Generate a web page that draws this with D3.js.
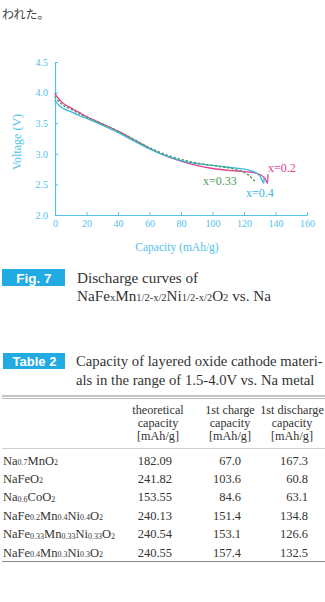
<!DOCTYPE html>
<html>
<head>
<meta charset="utf-8">
<script src="https://cdn.jsdelivr.net/npm/d3@7"></script>
<style>
  body { margin: 0; background: #fff; }
  svg { display: block; }
</style>
</head>
<body>
<div id="page"></div>
<script>
(function () {
    var width = 325, height = 602;

    // --- chart data (capacity mAh/g, voltage V) ---
    var xTicks = [0, 20, 40, 60, 80, 100, 120, 140, 160];
    var yTicks = [2.0, 2.5, 3.0, 3.5, 4.0, 4.5];

    var curveX02 = [[0, 3.98], [3, 3.88], [6, 3.81], [10, 3.75], [15, 3.68], [20, 3.61], [30, 3.49], [40, 3.37],
        [50, 3.23], [60, 3.09], [70, 2.97], [80, 2.88], [90, 2.81], [100, 2.76], [110, 2.73], [120, 2.71],
        [127, 2.69], [131, 2.65], [133.5, 2.59], [134.8, 2.52], [135.2, 2.66]];
    var curveX033 = [[0, 3.93], [3, 3.84], [6, 3.78], [10, 3.73], [15, 3.66], [20, 3.60], [30, 3.49], [40, 3.37],
        [50, 3.24], [60, 3.10], [70, 2.99], [80, 2.91], [90, 2.85], [100, 2.81], [110, 2.77], [118, 2.72],
        [123, 2.65], [126.6, 2.56]];
    var curveX04 = [[0, 3.87], [3, 3.78], [6, 3.73], [10, 3.69], [15, 3.63], [20, 3.58], [30, 3.47], [40, 3.35],
        [50, 3.21], [60, 3.08], [70, 2.97], [80, 2.89], [90, 2.84], [100, 2.81], [110, 2.78], [120, 2.75],
        [126, 2.71], [130, 2.64], [132.5, 2.52], [132.7, 2.6]];

    var seriesNames = ["x=0.2", "x=0.33", "x=0.4"];

    // --- table data ---
    var tableHeaders = [["theoretical", "capacity", "[mAh/g]"],
        ["1st charge", "capacity", "[mAh/g]"],
        ["1st discharge", "capacity", "[mAh/g]"]];
    var materials = ["Na_{0.7}MnO_{2}", "NaFeO_{2}", "Na_{0.6}CoO_{2}", "NaFe_{0.2}Mn_{0.4}Ni_{0.4}O_{2}",
        "NaFe_{0.33}Mn_{0.33}Ni_{0.33}O_{2}", "NaFe_{0.4}Mn_{0.3}Ni_{0.3}O_{2}"];
    var theoretical = [182.09, 241.82, 153.55, 240.13, 240.54, 240.55];
    var firstCharge = [67.0, 103.6, 84.6, 151.4, 153.1, 157.4];
    var firstDischarge = [167.3, 60.8, 63.1, 134.8, 126.6, 132.5];

    var serif = "'Liberation Serif', 'DejaVu Serif', serif";
    var sans = "'Liberation Sans', Arial, sans-serif";
    var axisColor = "#52c2ea";
    var boxColor = "#22aae2";
    var textColor = "#333";

    var svg = d3.select("#page")
        .append("svg")
        .attr("width", width)
        .attr("height", height);

    // split "Na_{0.7}MnO_{2}" into normal / subscript tspans
    function rich(text, str, subSize, shift) {
        var parts = str.split(/(_\{[^}]*\})/).filter(function (p) { return p.length; });
        var down = false;
        parts.forEach(function (p) {
            var isSub = p.indexOf("_{") == 0;
            var t = text.append("tspan").text(isSub ? p.slice(2, -1) : p);
            if (isSub) {
                t.attr("font-size", subSize);
                if (!down) { t.attr("dy", shift); down = true; }
            } else if (down) {
                t.attr("dy", -shift);
                down = false;
            }
        });
    }

    // leftover paragraph text
    svg.append("text")
        .attr("x", 2).attr("y", 19)
        .attr("font-family", "'Noto Sans CJK JP', sans-serif")
        .attr("font-size", 12)
        .attr("fill", "#444")
        .text("われた。");

    // --- chart ---
    var x = d3.scaleLinear().domain([0, 160]).range([55, 307]);
    var y = d3.scaleLinear().domain([2, 4.5]).range([215, 62]);

    var gx = svg.append("g")
        .attr("transform", "translate(0,215)")
        .call(d3.axisBottom(x).tickValues(xTicks).tickSizeInner(-3).tickSizeOuter(0).tickPadding(5));
    var gy = svg.append("g")
        .attr("transform", "translate(55,0)")
        .call(d3.axisLeft(y).tickValues(yTicks).tickSizeInner(-3).tickSizeOuter(0).tickPadding(7)
            .tickFormat(d3.format(".1f")));

    [gx, gy].forEach(function (g) {
        g.select(".domain").attr("stroke", axisColor).attr("stroke-width", 1.2);
        g.selectAll(".tick line").attr("stroke", axisColor);
        g.selectAll(".tick text")
            .attr("fill", axisColor)
            .attr("font-family", serif)
            .attr("font-size", 10);
    });

    svg.append("text")
        .attr("transform", "translate(21,142) rotate(-90)")
        .attr("text-anchor", "middle")
        .attr("font-family", serif)
        .attr("font-size", 12)
        .attr("fill", axisColor)
        .text("Voltage (V)");

    svg.append("text")
        .attr("x", 177).attr("y", 251)
        .attr("text-anchor", "middle")
        .attr("font-family", serif)
        .attr("font-size", 11.5)
        .attr("fill", axisColor)
        .text("Capacity (mAh/g)");

    var line = d3.line()
        .x(function (d) { return x(d[0]); })
        .y(function (d) { return y(d[1]); })
        .curve(d3.curveCatmullRom.alpha(0.5));

    var curves = [
        {name: seriesNames[0], data: curveX02, color: "#e23f8c", dash: null, lx: 268, ly: 172},
        {name: seriesNames[1], data: curveX033, color: "#4f9a56", dash: "1.2,3", lx: 203, ly: 185},
        {name: seriesNames[2], data: curveX04, color: "#3ab5e5", dash: null, lx: 246, ly: 197}
    ];

    // draw order: magenta under, cyan, then dotted green on top
    [curves[0], curves[2], curves[1]].forEach(function (c) {
        svg.append("path")
            .datum(c.data)
            .attr("d", line)
            .attr("fill", "none")
            .attr("stroke", c.color)
            .attr("stroke-width", c.dash ? 1.4 : 1.3)
            .attr("stroke-linecap", "round")
            .attr("stroke-dasharray", c.dash);
    });

    svg.selectAll(".series-label")
        .data(curves)
        .join("text")
        .attr("class", "series-label")
        .attr("x", function (d) { return d.lx; })
        .attr("y", function (d) { return d.ly; })
        .attr("font-family", serif)
        .attr("font-size", 12)
        .attr("fill", function (d) { return d.color; })
        .text(function (d) { return d.name; });

    // --- Fig. 7 caption ---
    svg.append("rect").attr("x", 2).attr("y", 269).attr("width", 63).attr("height", 17).attr("fill", boxColor);
    svg.append("text")
        .attr("x", 34).attr("y", 282.5)
        .attr("text-anchor", "middle")
        .attr("font-family", sans).attr("font-weight", "bold").attr("font-size", 13.5)
        .attr("fill", "#fff")
        .text("Fig. 7");
    svg.append("text")
        .attr("x", 77).attr("y", 282.5)
        .attr("font-family", serif).attr("font-size", 15.2).attr("fill", textColor)
        .text("Discharge curves of");
    rich(svg.append("text")
        .attr("x", 77).attr("y", 300.5)
        .attr("font-family", serif).attr("font-size", 15.2).attr("fill", textColor),
        "NaFe_{x}Mn_{1/2-x/2}Ni_{1/2-x/2}O_{2} vs. Na", 10.5, 0.5);

    // --- Table 2 caption ---
    svg.append("rect").attr("x", 3).attr("y", 353).attr("width", 62).attr("height", 16).attr("fill", boxColor);
    svg.append("text")
        .attr("x", 34.5).attr("y", 366)
        .attr("text-anchor", "middle")
        .attr("font-family", sans).attr("font-weight", "bold").attr("font-size", 13)
        .attr("fill", "#fff")
        .text("Table 2");
    svg.append("text")
        .attr("x", 76).attr("y", 366)
        .attr("font-family", serif).attr("font-size", 14.7).attr("fill", textColor)
        .text("Capacity of layered oxide cathode materi-");
    svg.append("text")
        .attr("x", 76).attr("y", 384.5)
        .attr("font-family", serif).attr("font-size", 14.7).attr("fill", textColor)
        .text("als in the range of 1.5-4.0V vs. Na metal");

    // --- table ---
    svg.append("line").attr("x1", 2).attr("x2", 325).attr("y1", 396).attr("y2", 396)
        .attr("stroke", "#888").attr("stroke-width", 1.2);
    svg.append("line").attr("x1", 2).attr("x2", 325).attr("y1", 398.5).attr("y2", 398.5)
        .attr("stroke", "#aaa").attr("stroke-width", 0.8);

    var colCenter = [158, 230, 292];
    var colRight = [172, 241, 308];

    tableHeaders.forEach(function (h, i) {
        svg.append("g").selectAll("text")
            .data(h)
            .join("text")
            .attr("x", colCenter[i])
            .attr("y", function (d, j) { return 413.5 + j * 13; })
            .attr("text-anchor", "middle")
            .attr("font-family", serif).attr("font-size", 12.2).attr("fill", textColor)
            .text(function (d) { return d; });
    });

    svg.append("line").attr("x1", 2).attr("x2", 325).attr("y1", 448.5).attr("y2", 448.5)
        .attr("stroke", "#bbb").attr("stroke-width", 0.7);

    var rowY = d3.scaleLinear().domain([0, materials.length - 1]).range([464.5, 556.5]);

    materials.forEach(function (m, i) {
        rich(svg.append("text")
            .attr("x", 3).attr("y", rowY(i))
            .attr("font-family", serif).attr("font-size", 12.5).attr("fill", textColor),
            m, 8, 0.5);
    });

    [[theoretical, d3.format(".2f")], [firstCharge, d3.format(".1f")], [firstDischarge, d3.format(".1f")]]
        .forEach(function (col, i) {
            svg.append("g").selectAll("text")
                .data(col[0])
                .join("text")
                .attr("x", colRight[i])
                .attr("y", function (d, j) { return rowY(j); })
                .attr("text-anchor", "end")
                .attr("font-family", serif).attr("font-size", 12.5).attr("fill", textColor)
                .text(function (d) { return col[1](d); });
        });

    svg.append("line").attr("x1", 2).attr("x2", 325).attr("y1", 561.5).attr("y2", 561.5)
        .attr("stroke", "#888").attr("stroke-width", 1.2);
})();
</script>
</body>
</html>
